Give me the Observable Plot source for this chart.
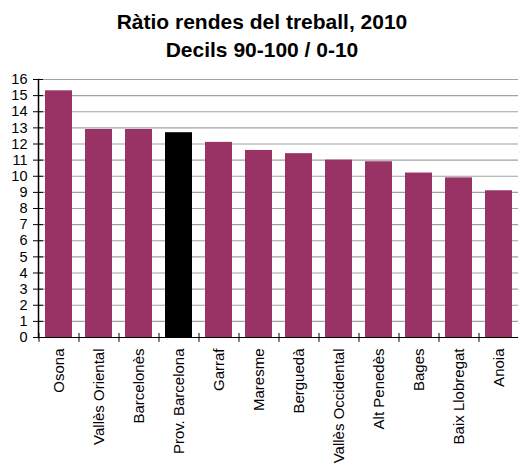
<!DOCTYPE html>
<html>
<head>
<meta charset="utf-8">
<script src="https://cdn.jsdelivr.net/npm/d3@7"></script>
<script src="https://cdn.jsdelivr.net/npm/@observablehq/plot@0.6"></script>
<style>
  body { margin: 0; background: #fff; font-family: "Liberation Sans", Arial, sans-serif; }
  #title { width: 518px; height: 70px; box-sizing: border-box; padding-top: 8px; text-align: center; font-weight: bold; font-size: 21px; line-height: 28px; color: #000; }
  #title div { position: relative; left: 3px; }
</style>
</head>
<body>
<div id="title"><div>Ràtio rendes del treball, 2010</div><div>Decils 90-100 / 0-10</div></div>
<div id="chart"></div>
<script>
const categories = ["Osona", "Vallès Oriental", "Barcelonès", "Prov. Barcelona", "Garraf", "Maresme", "Berguedà", "Vallès Occidental", "Alt Penedès", "Bages", "Baix Llobregat", "Anoia"];
const values = [15.3, 12.9, 12.9, 12.7, 12.1, 11.6, 11.4, 11.0, 10.9, 10.2, 9.9, 9.1];
const highlight = ["Prov. Barcelona"];
const yTicks = d3.range(0, 17);

const data = categories.map((c, i) => ({category: c, value: values[i]}));

const chart = Plot.plot({
  width: 518,
  height: 397,
  marginTop: 9,
  marginBottom: 130,
  marginLeft: 38,
  marginRight: 0,
  style: {fontFamily: "'Liberation Sans', Arial, sans-serif", color: "#000", background: "#fff"},
  x: {domain: categories, paddingInner: 0.33, paddingOuter: 0.165, label: null, axis: null},
  y: {domain: [0, 16], label: null, axis: null},
  marks: [
    Plot.ruleY(yTicks.filter(d => d > 0), {stroke: "#a0a0a0", strokeWidth: 1.2}),
    Plot.barY(data, {x: "category", y: "value", fill: d => highlight.includes(d.category) ? "#000000" : "#993366"}),
    Plot.ruleY([0], {stroke: "#000", strokeWidth: 1}),
    Plot.frame({anchor: "left", stroke: "#000", strokeWidth: 1.5}),
    Plot.axisY({ticks: yTicks, tickSize: 10, dx: 5, text: null, stroke: "#000"}),
    Plot.text(yTicks, {frameAnchor: "left", y: d => d, text: d => String(d), textAnchor: "end", dx: -11, fill: "#000", fontSize: 14.5}),
    Plot.ruleX(categories, {x: d => d, dx: -20, y1: 0.25, y2: -0.3, stroke: "#000"}),
    Plot.ruleX(categories.slice(-1), {x: d => d, dx: 19.5, y1: 0.25, y2: -0.3, stroke: "#000"}),
    Plot.text(categories, {x: d => d, y: 0, text: d => d, rotate: -90, textAnchor: "end", dy: 11, fill: "#000", fontSize: 15})
  ]
});
document.getElementById("chart").appendChild(chart);
</script>
</body>
</html>
